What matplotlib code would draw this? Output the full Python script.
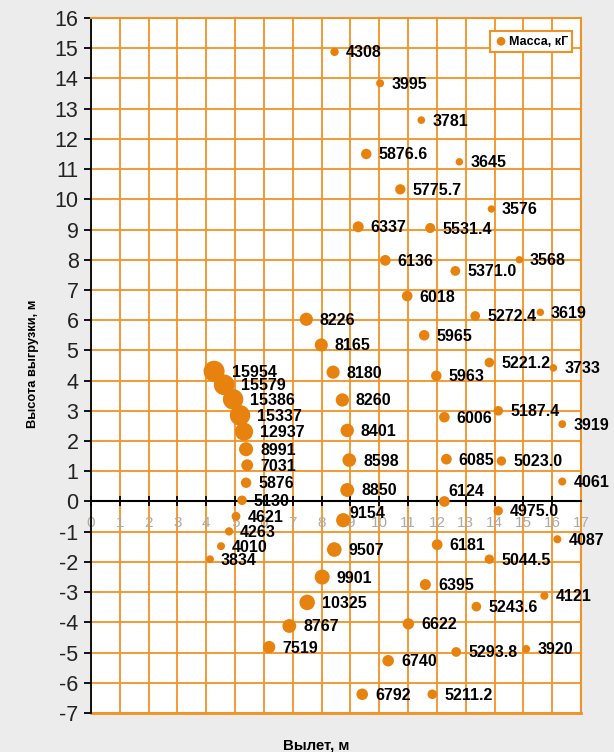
import matplotlib
matplotlib.use("Agg")
import matplotlib.pyplot as plt
import numpy as np

plt.rcParams['font.family'] = ['Liberation Sans', 'DejaVu Sans']
plt.rcParams['axes.unicode_minus'] = False

# Data: reach (m), unloading height (m), mass (kG)
reach = [8.45, 10.03, 11.46, 9.55, 12.78, 10.73, 13.89, 9.27, 11.77, 10.21,
         14.86, 12.64, 10.97, 13.33, 15.59, 7.47, 11.56, 7.99, 13.82, 16.04,
         4.27, 8.40, 11.98, 4.62, 4.93, 8.72, 5.17, 14.13, 12.26, 16.35,
         5.31, 8.89, 5.38, 5.42, 8.96, 12.33, 14.24, 16.35, 5.38, 8.89,
         5.24, 12.26, 14.13, 5.03, 8.75, 4.79, 16.18, 12.01, 4.51, 8.44,
         4.13, 13.82, 8.02, 11.60, 15.73, 7.50, 13.37, 6.88, 11.01, 6.18,
         12.67, 15.10, 10.31, 9.41, 11.84]
height = [14.88, 13.84, 12.62, 11.50, 11.24, 10.33, 9.68, 9.09, 9.05, 7.98,
          8.00, 7.63, 6.80, 6.14, 6.26, 6.03, 5.50, 5.18, 4.60, 4.42,
          4.31, 4.28, 4.16, 3.86, 3.38, 3.36, 2.85, 3.00, 2.79, 2.56,
          2.31, 2.35, 1.73, 1.20, 1.37, 1.40, 1.34, 0.66, 0.62, 0.38,
          0.04, 0.00, -0.31, -0.49, -0.62, -0.99, -1.25, -1.43, -1.48, -1.59,
          -1.91, -1.91, -2.50, -2.75, -3.12, -3.34, -3.48, -4.12, -4.05, -4.82,
          -4.98, -4.88, -5.27, -6.38, -6.38]
mass = [4308, 3995, 3781, 5876.6, 3645, 5775.7, 3576, 6337, 5531.4, 6136,
        3568, 5371.0, 6018, 5272.4, 3619, 8226, 5965, 8165, 5221.2, 3733,
        15954, 8180, 5963, 15579, 15386, 8260, 15337, 5187.4, 6006, 3919,
        12937, 8401, 8991, 7031, 8598, 6085, 5023.0, 4061, 5876, 8850,
        5130, 6124, 4975.0, 4621, 9154, 4263, 4087, 6181, 4010, 9507,
        3834, 5044.5, 9901, 6395, 4121, 10325, 5243.6, 8767, 6622, 7519,
        5293.8, 3920, 6740, 6792, 5211.2]
labels = ["4308", "3995", "3781", "5876.6", "3645", "5775.7", "3576", "6337", "5531.4", "6136",
          "3568", "5371.0", "6018", "5272.4", "3619", "8226", "5965", "8165", "5221.2", "3733",
          "15954", "8180", "5963", "15579", "15386", "8260", "15337", "5187.4", "6006", "3919",
          "12937", "8401", "8991", "7031", "8598", "6085", "5023.0", "4061", "5876", "8850",
          "5130", "6124", "4975.0", "4621", "9154", "4263", "4087", "6181", "4010", "9507",
          "3834", "5044.5", "9901", "6395", "4121", "10325", "5243.6", "8767", "6622", "7519",
          "5293.8", "3920", "6740", "6792", "5211.2"]

legend_label = "Масса, кГ"
x_title = "Вылет, м"
y_title = "Высота выгрузки, м"
x_ticks = list(range(0, 18))
y_ticks = list(range(-7, 17))

ORANGE = "#E8820E"
GRID = "#F39224"
BG = "#ECECEC"

W, H = 614, 752
fig = plt.figure(figsize=(W / 100, H / 100), dpi=100, facecolor=BG)
ax = fig.add_axes([91 / W, 1 - 713 / H, 490 / W, 695 / H])
ax.set_facecolor("white")

ax.set_xlim(0, 17)
ax.set_ylim(-7, 16)

# bubble diameters in px (area-ish scaling)
m = np.array(mass, dtype=float)
diam_px = 21.0 * (m / m.max()) ** 0.7
sizes = (diam_px * 0.72) ** 2

ax.set_xticks(x_ticks)
ax.set_yticks(y_ticks)
ax.grid(True, color=GRID, linewidth=1.3, zorder=0)
ax.set_axisbelow(True)

ax.scatter(reach, height, s=sizes, color=ORANGE, edgecolors="none", zorder=3,
           label=legend_label)

# labels
special = {"9154": (6, 7), "6124": (4, 10)}
for xi, yi, lab, d in zip(reach, height, labels, diam_px):
    if lab in special:
        dx, dy = special[lab]
    else:
        dx, dy = d / 2 + 7, -1
    ax.annotate(lab, (xi, yi), xytext=(dx * 0.72, dy * 0.72),
                textcoords="offset points", ha="left", va="center",
                fontsize=11.5, fontweight="bold", color="black", zorder=4)

# spines
for s in ["top", "right"]:
    ax.spines[s].set_color(GRID)
    ax.spines[s].set_linewidth(1.5)
ax.spines["left"].set_color("black")
ax.spines["left"].set_linewidth(1.3)
ax.spines["bottom"].set_position(("data", 0))
ax.spines["bottom"].set_color("black")
ax.spines["bottom"].set_linewidth(1.5)
ax.spines["bottom"].set_zorder(2.5)

ax.tick_params(axis="y", direction="out", length=5, width=1.3, color="black",
               labelsize=15.5, pad=4)
ax.tick_params(axis="x", direction="inout", length=7, width=1.3, color="black",
               labelsize=11, labelcolor="#ABABAB", pad=7)
for t in ax.get_yticklabels():
    t.set_color("#222222")

# bottom orange border line at y=-7
ax.axhline(-7, color=GRID, linewidth=2, zorder=1, clip_on=False)

leg = ax.legend(loc="upper right", bbox_to_anchor=(0.982, 0.981), frameon=True,
                fancybox=False, edgecolor=GRID, facecolor="white", framealpha=1,
                prop={"weight": "bold", "size": 9}, handletextpad=0.1,
                borderpad=0.35, markerscale=0.55, handlelength=1.0,
                borderaxespad=0)
leg.get_frame().set_linewidth(1.5)

fig.text(33 / W, 1 - 364 / H, y_title, rotation=90, ha="center", va="center",
         fontsize=9.3, fontweight="bold")
fig.text(316 / W, 1 - 745 / H, x_title, ha="center", va="center",
         fontsize=10.8, fontweight="bold")

fig.savefig("out.png", dpi=100, facecolor=BG)
